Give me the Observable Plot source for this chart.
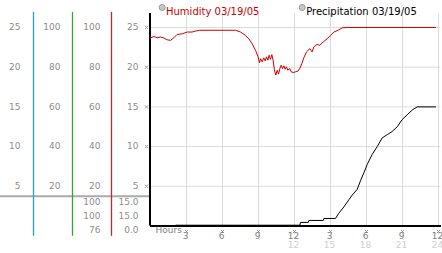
<!DOCTYPE html>
<html>
<head>
<meta charset="utf-8">
<script src="https://cdn.jsdelivr.net/npm/d3@7"></script>
<script src="https://cdn.jsdelivr.net/npm/@observablehq/plot@0.6"></script>
<style>
  html, body { margin: 0; padding: 0; background: #fff; }
  #chart svg { display: block; }
</style>
</head>
<body>
<div id="chart"></div>
<script>
// ---- Data ----
const humidityHours = [0, 0.28, 0.56, 0.83, 1.11, 1.39, 1.67, 1.94, 2.22, 2.64, 3.06, 3.47, 3.75, 4.08,
  7.08, 7.5, 7.92, 8.19, 8.47, 8.75, 8.97, 9.08, 9.17, 9.31, 9.44, 9.56, 9.67, 9.78, 9.89, 10.0, 10.11, 10.22,
  10.33, 10.44, 10.56, 10.67, 10.78, 10.89, 11.0, 11.11, 11.22, 11.33, 11.44, 11.61, 11.72, 11.89, 12.11, 12.28,
  12.44, 12.61, 12.78, 13.0, 13.28, 13.47, 13.61, 13.89, 14.11, 14.39, 14.72, 15.0, 15.28, 15.69, 15.97, 16.39, 23.75];
const humidityValues = [94.7, 95.5, 94.8, 95.2, 94.7, 93.8, 93.5, 94.8, 96.5, 96.8, 97.7, 97.7, 98.2, 98.6,
  98.6, 97.7, 96, 94.3, 91.8, 88.5, 85.2, 82.2, 84.3, 82.7, 84.7, 83.2, 85.2, 83.5, 86, 84, 86.3, 83.5,
  78.5, 76, 78.5, 76.5, 79.3, 81, 79.3, 80.7, 79, 80.2, 78.5, 79.3, 77.7, 77.3, 77.7, 78,
  79.3, 81.8, 84.8, 87.7, 89.3, 87.7, 90.2, 91.5, 91, 92.7, 94.3, 96, 97.7, 98.8, 99.8, 100, 100];

const precipHours = [0, 2.05, 2.1, 12.45, 12.5, 13.15, 13.2, 14.4, 14.45, 15.42, 15.69, 16.11, 16.53, 16.81, 17.22,
  17.5, 17.78, 18.06, 18.47, 18.89, 19.31, 19.72, 20.14, 20.56, 20.97, 21.39, 21.81, 22.22, 23.75];
const precipValues = [0, 0, 0.1, 0.1, 0.45, 0.45, 0.7, 0.7, 0.95, 0.95, 1.6, 2.4, 3.3, 3.9, 4.6,
  5.7, 6.7, 7.75, 9, 10, 11.1, 11.5, 11.9, 12.5, 13.4, 14, 14.6, 15, 15];

const gridY = [5, 10, 15, 20, 25];              // main scale ticks
const gridX = [3, 6, 9, 12, 15, 18, 21, 24];    // hour gridlines
const xTicks = [3, 6, 9, 12, 15, 18, 21, 24];
const xLabels12 = ["3", "6", "9", "12", "3", "6", "9", "12"];
const xTicks24 = [12, 15, 18, 21, 24];
const xLabels24 = ["12", "15", "18", "21", "24"];
const legendNames = ["Humidity 03/19/05", "Precipitation 03/19/05"];
const panelColors = ["#1e9fe0", "#2ea82e", "#c02828"];

// ---- Build tables ----
const humidity = humidityHours.map((h, i) => ({hour: h, value: humidityValues[i]}));
const precip = precipHours.map((h, i) => ({hour: h, value: precipValues[i]}));

const humStats = [d3.max(humidityValues), humidityValues[humidityValues.length - 1], d3.min(humidityValues)].map(v => d3.format(".0f")(v));
const preStats = [d3.max(precipValues), precipValues[precipValues.length - 1], d3.min(precipValues)].map(v => d3.format(".1f")(v));

const gray = "#8c8c8c";
const chart = Plot.plot({
  width: 442,
  height: 253,
  marginLeft: 150,
  marginRight: 4,
  marginTop: 13,
  marginBottom: 27.5,
  x: {domain: [0, 24], axis: null},
  y: {domain: [0, 26.76], axis: null},
  style: {fontFamily: "DejaVu Sans", fontSize: "9px", background: "#fff", overflow: "visible"},
  marks: [
    // grid
    Plot.ruleY(gridY, {x1: 0, x2: 24.2, stroke: "#dcdcdc", strokeWidth: 1}),
    Plot.ruleX(gridX, {y1: 0, y2: 26.76, stroke: "#dcdcdc", strokeWidth: 1}),
    // left panel: coloured dividers and gray separator
    Plot.ruleY([3.75], {x1: -12.5, x2: 0, stroke: "#aaaaaa", strokeWidth: 2}),
    Plot.ruleX([0], {y1: -1.3, y2: 26.9, dx: -117, stroke: panelColors[0], strokeWidth: 1.3}),
    Plot.ruleX([0], {y1: -1.3, y2: 26.9, dx: -78, stroke: panelColors[1], strokeWidth: 1.3}),
    Plot.ruleX([0], {y1: -1.3, y2: 26.9, dx: -39, stroke: panelColors[2], strokeWidth: 1.3}),
    // left panel scale columns
    Plot.text(gridY, {y: d => d, text: d => String(d), frameAnchor: "left", dx: -130, textAnchor: "end", fill: gray}),
    Plot.text(gridY, {y: d => d, text: d => String(d * 4), frameAnchor: "left", dx: -90, textAnchor: "end", fill: gray}),
    Plot.text(gridY, {y: d => d, text: d => String(d * 4), frameAnchor: "left", dx: -50, textAnchor: "end", fill: gray}),
    Plot.text(gridY, {y: d => d, text: d => String(d), frameAnchor: "left", dx: -12, textAnchor: "end", fill: gray}),
    Plot.dot(gridY, {y: d => d, frameAnchor: "left", dx: -4, symbol: "times", r: 1.6, stroke: "#a0a0a0", strokeWidth: 1}),
    // readouts (max / current / min)
    Plot.text([humStats[0]], {text: d => d, frameAnchor: "bottom-left", dx: -50, dy: -21, textAnchor: "end", fill: gray}),
    Plot.text([humStats[1]], {text: d => d, frameAnchor: "bottom-left", dx: -50, dy: -7, textAnchor: "end", fill: gray}),
    Plot.text([humStats[2]], {text: d => d, frameAnchor: "bottom-left", dx: -50, dy: 7, textAnchor: "end", fill: gray}),
    Plot.text([preStats[0]], {text: d => d, frameAnchor: "bottom-left", dx: -12, dy: -21, textAnchor: "end", fill: gray}),
    Plot.text([preStats[1]], {text: d => d, frameAnchor: "bottom-left", dx: -12, dy: -7, textAnchor: "end", fill: gray}),
    Plot.text([preStats[2]], {text: d => d, frameAnchor: "bottom-left", dx: -12, dy: 7, textAnchor: "end", fill: gray}),
    // axes
    Plot.ruleX([0], {y1: 0, y2: 26.76, stroke: "#000", strokeWidth: 2, dx: -0.5}),
    Plot.ruleY([0], {x1: 0, x2: 24.25, stroke: "#000", strokeWidth: 2}),
    // x axis labels
    Plot.text(["Hours"], {text: d => d, frameAnchor: "bottom-left", dx: 5, dy: 7, textAnchor: "start", fill: "#808080"}),
    Plot.dot(xTicks, {x: d => d, frameAnchor: "bottom", dy: 5.5, symbol: "times", r: 1.6, stroke: "#a0a0a0", strokeWidth: 1}),
    Plot.text(xTicks, {x: d => d, text: (d, i) => xLabels12[i], frameAnchor: "bottom", dx: -1, dy: 12.5, fill: "#808080"}),
    Plot.text(xTicks24, {x: d => d, text: (d, i) => xLabels24[i], frameAnchor: "bottom", dx: -1, dy: 21.5, fill: "#cfcfcf"}),
    // data
    Plot.line(humidity, {x: "hour", y: d => d.value / 4, stroke: "#cc0000", strokeWidth: 1}),
    Plot.line(precip, {x: "hour", y: "value", stroke: "#000", strokeWidth: 1}),
    // legend
    Plot.dot([0], {frameAnchor: "top-left", dx: 11.7, dy: -6, r: 3, fill: "#c8c8c8", stroke: "#999", strokeWidth: 1}),
    Plot.text([legendNames[0]], {text: d => d, frameAnchor: "top-left", dx: 15.5, dy: -6, textAnchor: "start", fill: "#cc0000", fontSize: 10}),
    Plot.dot([0], {frameAnchor: "top-left", dx: 151.7, dy: -6, r: 3, fill: "#c8c8c8", stroke: "#999", strokeWidth: 1}),
    Plot.text([legendNames[1]], {text: d => d, frameAnchor: "top-left", dx: 155.7, dy: -6, textAnchor: "start", fill: "#000", fontSize: 10})
  ]
});
document.getElementById("chart").appendChild(chart);
</script>
</body>
</html>
